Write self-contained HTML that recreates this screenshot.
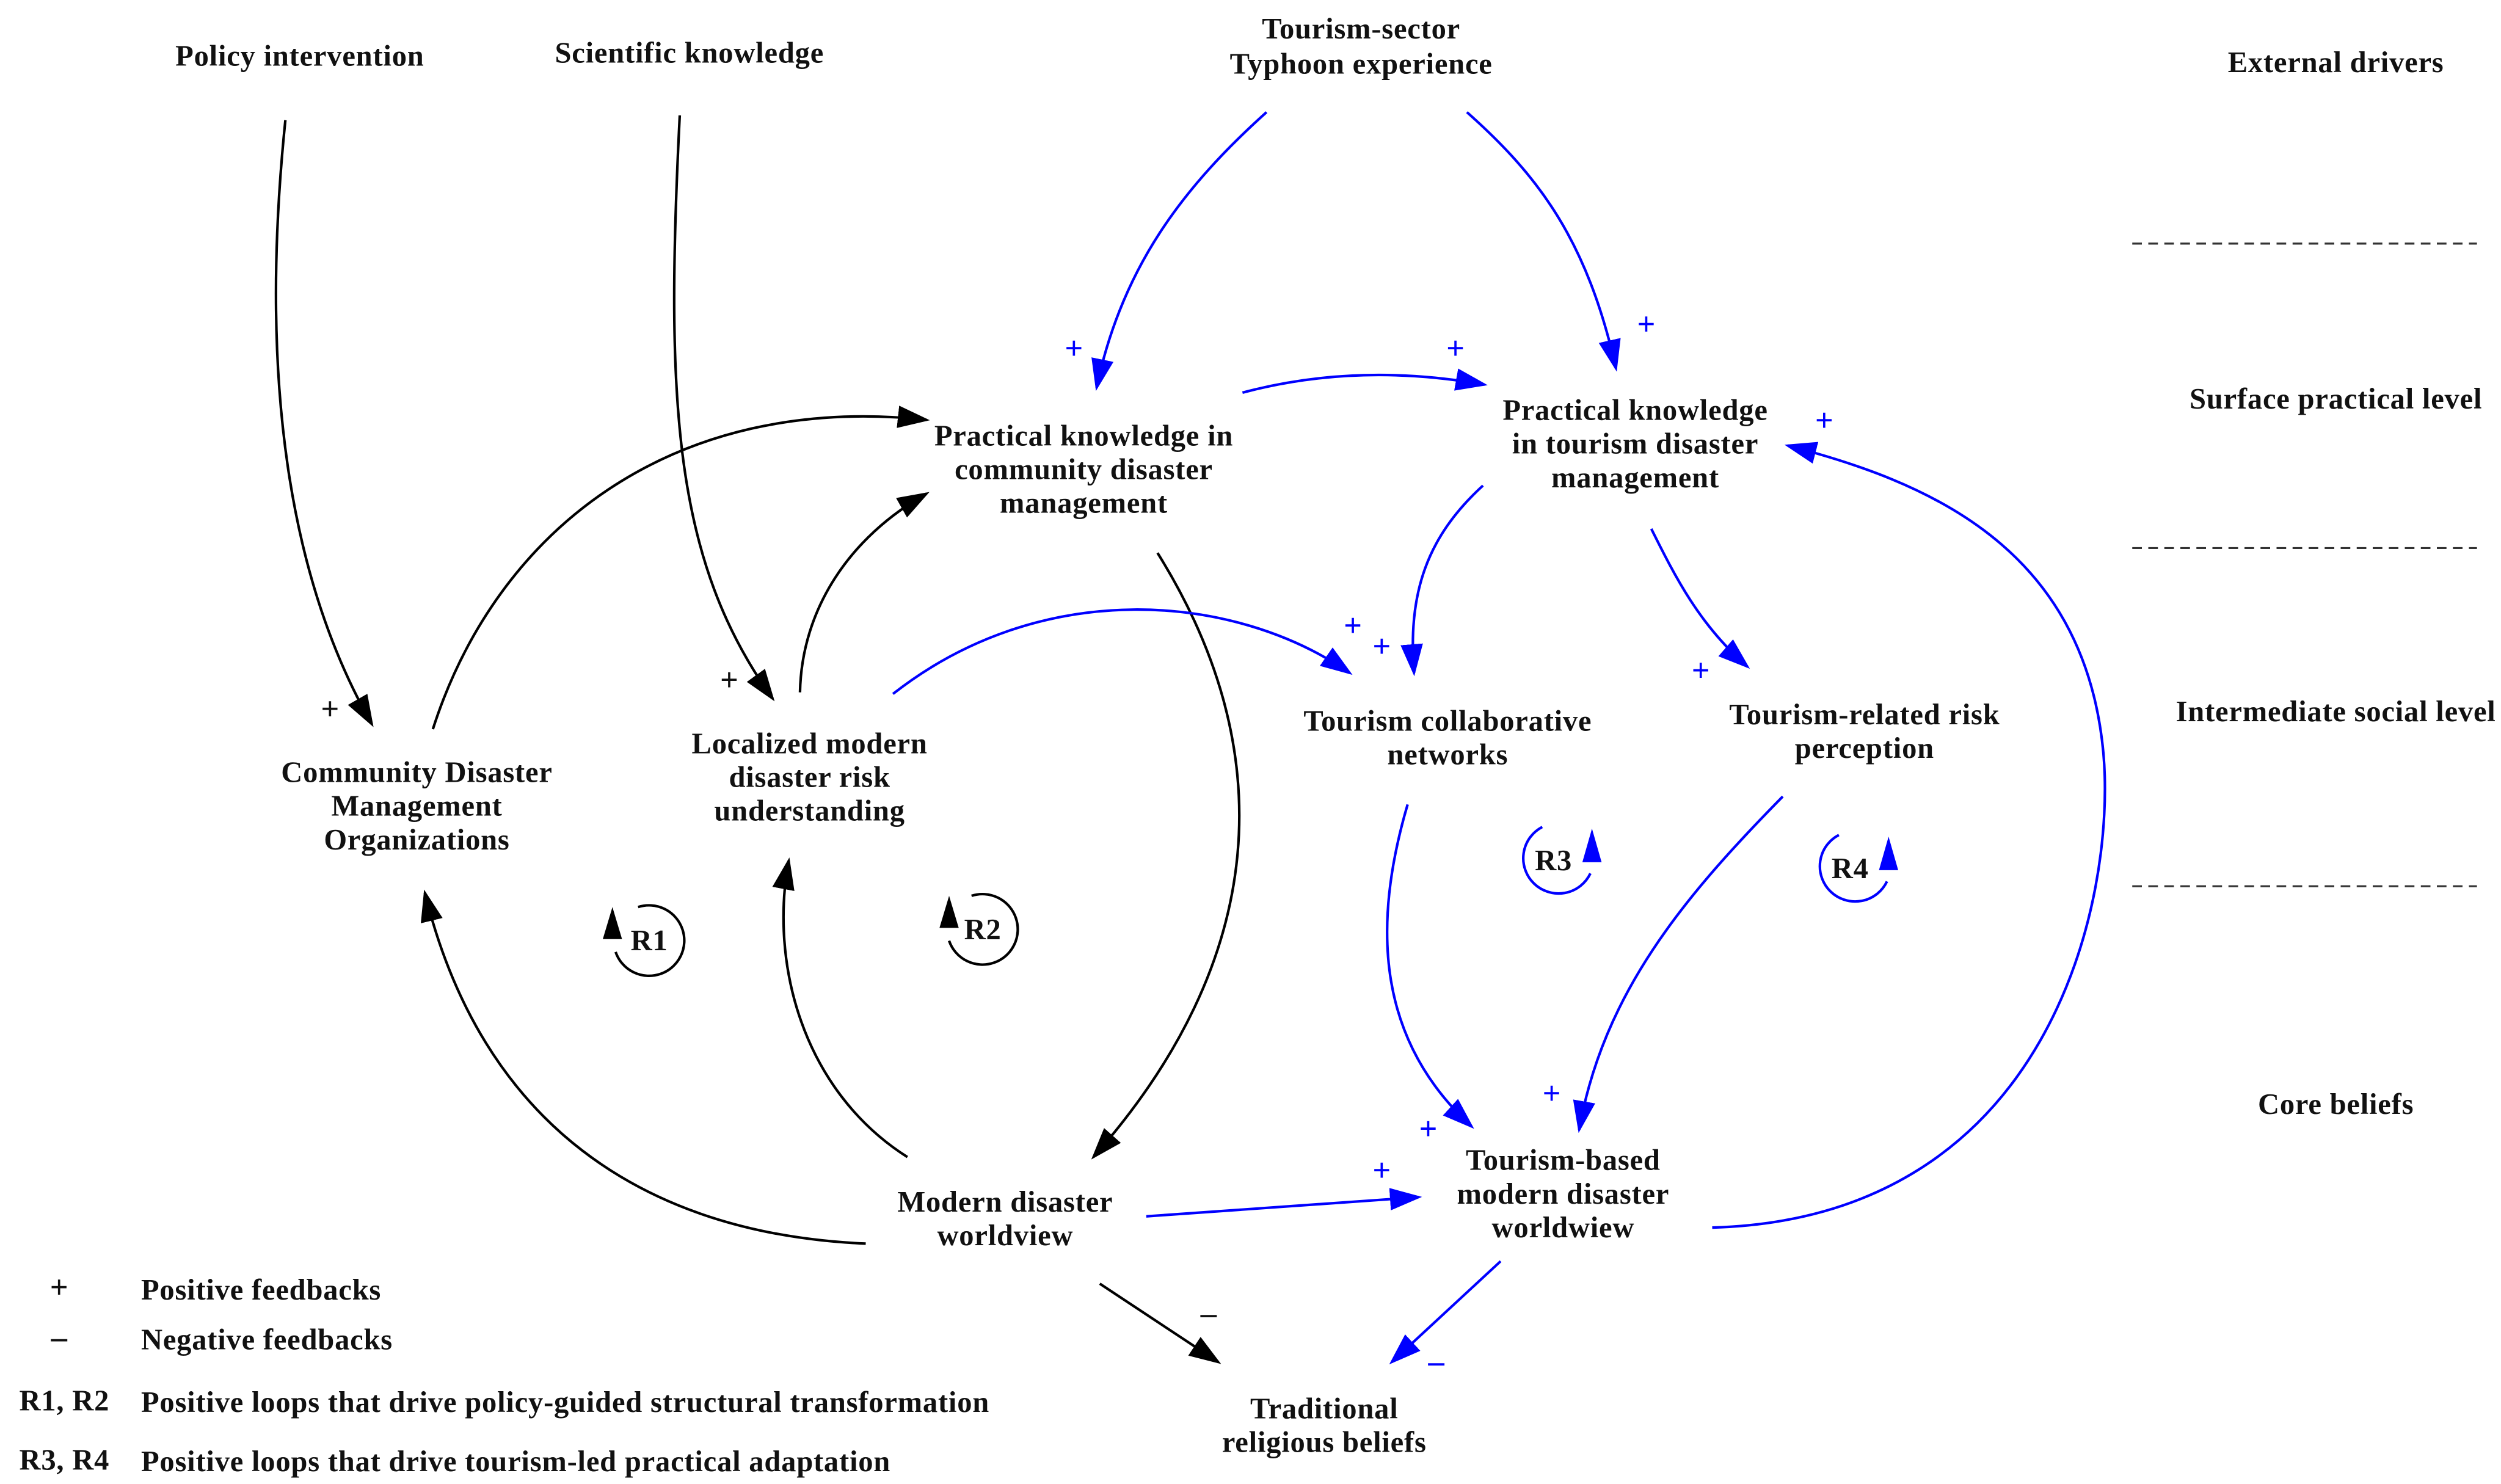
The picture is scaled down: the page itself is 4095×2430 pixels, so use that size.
<!DOCTYPE html>
<html><head><meta charset="utf-8">
<style>
html,body{margin:0;padding:0;background:#fff;}
svg{display:block;}
text{font-family:"Liberation Serif","DejaVu Serif",serif;font-weight:bold;font-size:18.5px;letter-spacing:0.3px;fill:#111;}
.c{text-anchor:middle;}
.b{fill:#0000ff;}
.s{font-size:20px;}
</style></head>
<body>
<svg width="4095" height="2430" viewBox="0 0 1560 926" preserveAspectRatio="none" xmlns="http://www.w3.org/2000/svg">
<defs>
<marker id="ak" markerWidth="20" markerHeight="14" refX="18" refY="7" orient="auto" markerUnits="userSpaceOnUse"><path d="M0,0 L20,7 L0,14 z" fill="#000"/></marker>
<marker id="ab" markerWidth="20" markerHeight="14" refX="18" refY="7" orient="auto" markerUnits="userSpaceOnUse"><path d="M0,0 L20,7 L0,14 z" fill="#0000ff"/></marker>
</defs>

<!-- level labels -->
<text class="c" x="1457" y="45">External drivers</text>
<text class="c" x="1457" y="255">Surface practical level</text>
<text class="c" x="1457" y="450">Intermediate social level</text>
<text class="c" x="1457" y="695">Core beliefs</text>
<g stroke="#333" stroke-width="1.2" stroke-dasharray="6,4">
<line x1="1330" y1="152" x2="1545" y2="152"/>
<line x1="1330" y1="342" x2="1545" y2="342"/>
<line x1="1330" y1="553" x2="1545" y2="553"/>
</g>

<!-- node labels -->
<text class="c" x="187" y="41">Policy intervention</text>
<text class="c" x="430" y="39">Scientific knowledge</text>
<text class="c" x="849" y="24">Tourism-sector</text>
<text class="c" x="849" y="46">Typhoon experience</text>
<text class="c" x="676" y="278">Practical knowledge in</text>
<text class="c" x="676" y="299">community disaster</text>
<text class="c" x="676" y="320">management</text>
<text class="c" x="1020" y="262">Practical knowledge</text>
<text class="c" x="1020" y="283">in tourism disaster</text>
<text class="c" x="1020" y="304">management</text>
<text class="c" x="260" y="488">Community Disaster</text>
<text class="c" x="260" y="509">Management</text>
<text class="c" x="260" y="530">Organizations</text>
<text class="c" x="505" y="470">Localized modern</text>
<text class="c" x="505" y="491">disaster risk</text>
<text class="c" x="505" y="512">understanding</text>
<text class="c" x="903" y="456">Tourism collaborative</text>
<text class="c" x="903" y="477">networks</text>
<text class="c" x="1163" y="452">Tourism-related risk</text>
<text class="c" x="1163" y="473">perception</text>
<text class="c" x="627" y="756">Modern disaster</text>
<text class="c" x="627" y="777">worldview</text>
<text class="c" x="975" y="730">Tourism-based</text>
<text class="c" x="975" y="751">modern disaster</text>
<text class="c" x="975" y="772">worldwiew</text>
<text class="c" x="826" y="885">Traditional</text>
<text class="c" x="826" y="906">religious beliefs</text>

<!-- black arrows -->
<g fill="none" stroke="#000" stroke-width="1.6" marker-end="url(#ak)">
<path d="M178,75 C160,250 185,370 232,452"/>
<path d="M424,72 C415,250 420,350 482,436"/>
<path d="M270,455 C310,330 420,245 578,262"/>
<path d="M499,432 C500,380 530,335 578,308"/>
<path d="M722,345 C800,470 790,600 682,722"/>
<path d="M540,776 C400,770 300,700 265,557"/>
<path d="M566,722 C500,680 480,600 492,537"/>
<path d="M686,801 L760,850"/>
</g>
<!-- blue arrows -->
<g fill="none" stroke="#0000ff" stroke-width="1.6" marker-end="url(#ab)">
<path d="M790,70 C740,115 700,165 684,242"/>
<path d="M915,70 C960,110 990,150 1008,230"/>
<path d="M775,245 C820,233 870,230 926,240"/>
<path d="M557,433 C650,360 770,370 842,420"/>
<path d="M925,303 C890,335 878,370 882,420"/>
<path d="M1030,330 C1045,360 1060,390 1090,416"/>
<path d="M878,502 C855,580 860,650 918,703"/>
<path d="M1112,497 C1050,560 1000,620 985,705"/>
<path d="M715,759 L885,747"/>
<path d="M1068,766 C1280,760 1320,560 1312,470 C1300,340 1200,300 1115,278"/>
<path d="M936,787 L868,850"/>
</g>

<!-- polarity signs -->
<text class="c s" x="206" y="449">+</text>
<text class="c s" x="455" y="431">+</text>
<text class="c s" x="754" y="826">–</text>
<g>
<text class="c b s" x="670" y="224">+</text>
<text class="c b s" x="1027" y="209">+</text>
<text class="c b s" x="908" y="224">+</text>
<text class="c b s" x="844" y="397">+</text>
<text class="c b s" x="862" y="410">+</text>
<text class="c b s" x="1061" y="425">+</text>
<text class="c b s" x="1138" y="269">+</text>
<text class="c b s" x="891" y="711">+</text>
<text class="c b s" x="968" y="689">+</text>
<text class="c b s" x="862" y="737">+</text>
<text class="c b s" x="896" y="856">–</text>
</g>

<!-- loops -->
<g fill="none" stroke-width="1.6">
<path d="M398,566 A22,22 0 1 1 384,594" stroke="#000"/>
<path d="M606,559 A22,22 0 1 1 592,587" stroke="#000"/>
<path d="M962,516 A22,22 0 1 0 992,545" stroke="#0000ff"/>
<path d="M1147,521 A22,22 0 1 0 1177,550" stroke="#0000ff"/>
</g>
<polygon points="376,586 388,586 382,566" fill="#000"/>
<polygon points="586,579 598,579 592,559" fill="#000"/>
<polygon points="987,538 999,538 993,517" fill="#0000ff"/>
<polygon points="1172,543 1184,543 1178,522" fill="#0000ff"/>
<text class="c" x="405" y="593">R1</text>
<text class="c" x="613" y="586">R2</text>
<text class="c" x="969" y="543">R3</text>
<text class="c" x="1154" y="548">R4</text>

<!-- legend -->
<text class="c s" x="37" y="810">+</text>
<text x="88" y="811">Positive feedbacks</text>
<text class="c s" x="37" y="841">–</text>
<text x="88" y="842">Negative feedbacks</text>
<text x="12" y="880">R1, R2</text>
<text x="88" y="881">Positive loops that drive policy-guided structural transformation</text>
<text x="12" y="917">R3, R4</text>
<text x="88" y="918">Positive loops that drive tourism-led practical adaptation</text>
</svg>
</body></html>
